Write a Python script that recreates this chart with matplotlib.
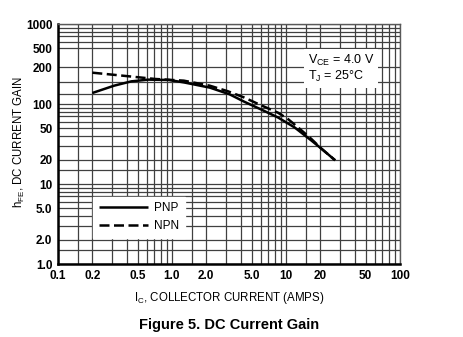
import matplotlib
matplotlib.use('Agg')
import matplotlib.pyplot as plt
import numpy as np
from matplotlib.ticker import FixedLocator, FixedFormatter, NullFormatter

plt.rcParams['font.family'] = ['Liberation Sans Narrow', 'Liberation Sans', 'DejaVu Sans']

# curve data
pnp_ic = [0.2, 0.31, 0.44, 0.62, 0.94, 1.27, 2.15, 3.2, 4.3, 6.0, 8.5, 11.9, 16.7, 20.5, 27]
pnp_hfe = [123, 141, 153, 158, 157, 150, 136, 120, 104.5, 86, 68, 51, 35, 27.6, 19.8]
npn_ic = [0.2, 0.35, 0.71, 1.27, 2.15, 3.1, 4.3, 6.0, 8.5, 10.4, 13.2, 16.7, 20.5, 27]
npn_hfe = [180, 171, 160, 155, 141, 127, 113, 97, 78, 65, 49, 36.6, 27.6, 19.8]

x_ticks = [0.1, 0.2, 0.5, 1, 2, 5, 10, 20, 50, 100]
x_labels = ['0.1', '0.2', '0.5', '1.0', '2.0', '5.0', '10', '20', '50', '100']
y_ticks = [1, 2, 5, 10, 20, 50, 100, 200, 500, 1000]
y_labels = ['1.0', '2.0', '5.0', '10', '20', '50', '100', '200', '500', '1000']

# the printed chart squeezes the top decade; mimic it with a piecewise log scale
knot_log = np.log10([1, 10, 100, 200, 500, 1000])
knot_pos = np.array([0, 1, 2, 2.4625, 2.7, 3])


def fwd(y):
    y = np.clip(np.asarray(y, dtype=float), 1e-3, None)
    return np.interp(np.log10(y), knot_log, knot_pos, left=-1, right=4)


def inv(p):
    return 10 ** np.interp(np.asarray(p, dtype=float), knot_pos, knot_log)


fig = plt.figure(figsize=(4.64, 3.37), dpi=100)
ax = fig.add_axes([0.125, 0.2166, 0.737, 0.712])

ax.set_xscale('log')
ax.set_yscale('function', functions=(fwd, inv))
ax.set_xlim(0.1, 100)
ax.set_ylim(1, 1000)

x_minor = []
for d in [0.1, 1, 10]:
    x_minor += [d * m for m in [1.5, 2, 3, 4, 5, 6, 7, 8, 9]]
y_minor = []
for d in [1, 10]:
    y_minor += [d * m for m in [1.5, 2, 3, 4, 5, 6, 7, 8, 9]]
y_minor += [120, 150, 200, 500, 600, 700, 800, 900]

ax.xaxis.set_major_locator(FixedLocator(x_ticks))
ax.xaxis.set_major_formatter(FixedFormatter(x_labels))
ax.xaxis.set_minor_locator(FixedLocator(x_minor))
ax.xaxis.set_minor_formatter(NullFormatter())
ax.yaxis.set_major_locator(FixedLocator(y_ticks))
ax.yaxis.set_major_formatter(FixedFormatter(y_labels))
ax.yaxis.set_minor_locator(FixedLocator(y_minor))
ax.yaxis.set_minor_formatter(NullFormatter())

ax.grid(True, which='both', color='0.25', linewidth=0.9)
ax.set_axisbelow(True)
ax.tick_params(which='both', length=0, labelsize=8.5, pad=4)
for lab in ax.get_xticklabels() + ax.get_yticklabels():
    lab.set_fontweight('bold')

for s in ['left', 'bottom']:
    ax.spines[s].set_linewidth(1.8)
for s in ['top', 'right']:
    ax.spines[s].set_linewidth(1.0)
    ax.spines[s].set_color('0.35')

ax.plot(pnp_ic, pnp_hfe, color='black', linewidth=1.8, solid_capstyle='butt', label='PNP')
ax.plot(npn_ic, npn_hfe, color='black', linewidth=1.8, dashes=(4, 1.8), label='NPN')

leg = ax.legend(loc='lower left', bbox_to_anchor=(0.085, 0.085), frameon=True,
                fontsize=8.5, handlelength=4.2, handletextpad=0.5,
                labelspacing=0.45, borderpad=0.5, fancybox=False)
leg.get_frame().set_edgecolor('white')
leg.get_frame().set_facecolor('white')
leg.get_frame().set_alpha(1)

ax.text(0.73, 0.815, '$\\mathregular{V_{CE}}$ = 4.0 V\n$\\mathregular{T_J}$ = 25°C',
        transform=ax.transAxes, fontsize=9, va='center', ha='left', linespacing=1.0,
        bbox=dict(facecolor='white', edgecolor='none', pad=3))

ax.set_xlabel('$\\mathregular{I_C}$, COLLECTOR CURRENT (AMPS)', fontsize=8.3, labelpad=6)
ax.set_ylabel('$\\mathregular{h_{FE}}$, DC CURRENT GAIN', fontsize=8.3)
ax.yaxis.set_label_coords(-0.09, 0.51)

fig.text(0.494, 0.035, 'Figure 5. DC Current Gain', ha='center', va='center',
         fontsize=10.5, fontweight='bold', family=['Liberation Sans', 'DejaVu Sans'])

fig.savefig('out.png', dpi=100)
